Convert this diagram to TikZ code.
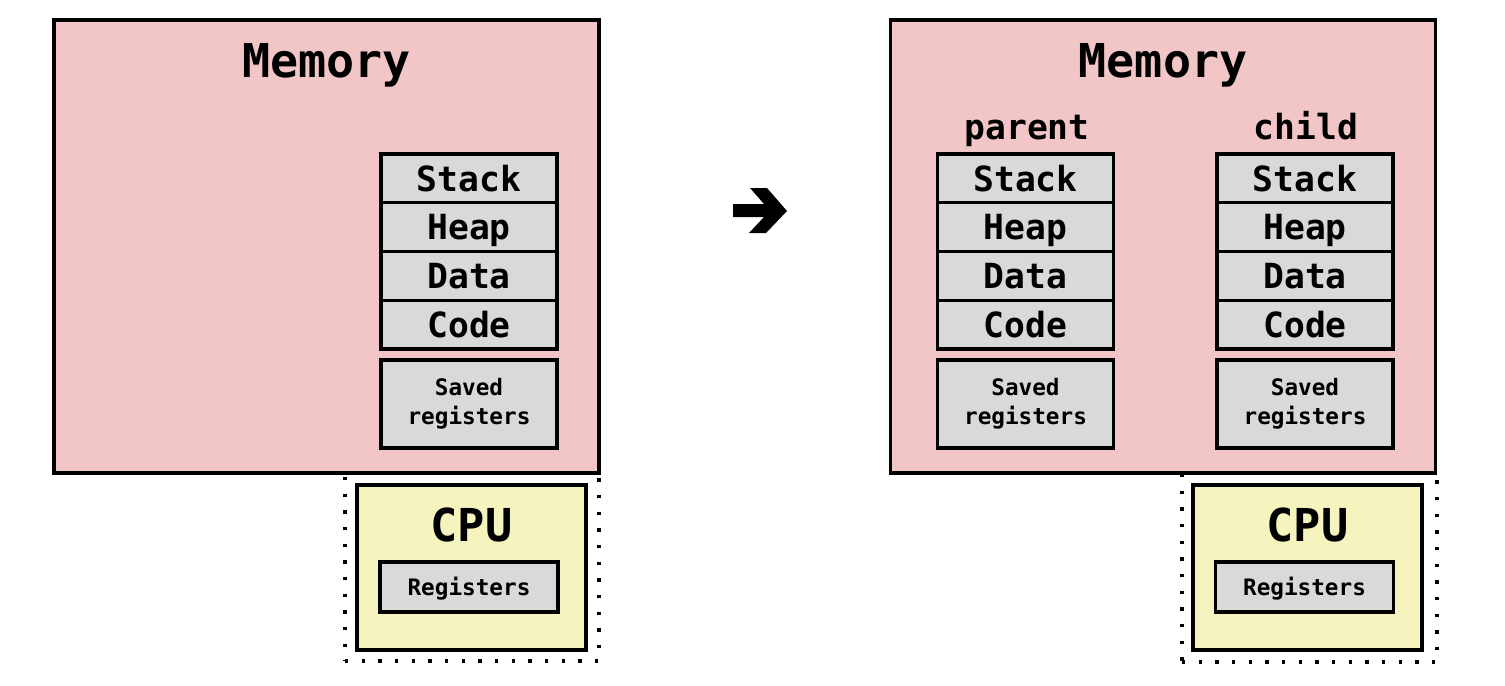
\documentclass[tikz,border=0pt]{standalone}
\usepackage{fontspec}
\setmonofont{DejaVu Sans Mono}
\definecolor{memfill}{RGB}{242,198,198}
\definecolor{segfill}{RGB}{217,217,217}
\definecolor{cpufill}{RGB}{246,244,190}

\begin{document}
\begin{tikzpicture}[x=0.75pt,y=-0.75pt,line join=miter,
		box/.style 2 args={draw,line width=2.3pt,inner sep=0pt,
			minimum width=#1*0.75pt,minimum height=#2*0.75pt},
		mono/.style={font=\ttfamily\bfseries\fontsize{#1}{#1}\selectfont,
			text height={0.73*#1pt},text depth=0pt,inner sep=0pt},
		mem/.style={box={545}{453},fill=memfill},
		seg/.style={box={176}{48.75},fill=segfill,mono=26},
		saved/.style={box={176}{88},fill=segfill,align=center,
			font=\ttfamily\bfseries\fontsize{17}{21.75}\selectfont},
		cpu/.style={box={229}{165},fill=cpufill},
		regs/.style={box={178}{50},fill=segfill,mono=17},
		zone/.style 2 args={draw,line width=2.5pt,line cap=butt,
			dash pattern=on 2.5pt off 10pt,inner sep=0pt,
			minimum width=#1*0.75pt,minimum height=#2*0.75pt}]
	\useasboundingbox (0,0) rectangle (1505,685);

	% dotted zones round the CPUs (top edge hidden under memory)
	\node[zone={254}{188}] (zoneL) at (472,567) {};
	\node[zone={255}{189}] (zoneR) at (1309.5,567.5) {};

	% the two memories
	\node[mem] (memL) at (326.5,246.5) {};
	\node[mem] (memR) at (1163,246.5) {};
	\node[mono=35] (titleL) at (326.5,60.5) {Memory};
	\node[mono=35] (titleR) at (1163,60.5) {Memory};
	\node[mono=26] (parent) at (1027,127) {parent};
	\node[mono=26] (child) at (1306,127) {child};

	% address spaces: L = before fork, P = parent, C = child
	\foreach \col/\cx in {L/469, P/1025.5, C/1305} {
		\foreach \seg [count=\i] in {Stack,Heap,Data,Code} {
			\node[seg] (\seg\col) at (\cx,{154+48.75*\i-24.375}) {\seg};
		}
		\node[saved] (saved\col) at (\cx,404) {Saved\\registers};
	}

	% the CPUs
	\foreach \col/\cx/\rx in {L/471.5/469, R/1307.5/1304.5} {
		\node[cpu] (cpu\col) at (\cx,567.5) {};
		\node[mono=34] (cpuname\col) at (\cx,525) {CPU};
		\node[regs] (regs\col) at (\rx,587) {Registers};
	}

	% fork arrow
	\fill (733,204) -- (764,204) -- (750,188) -- (767,188) -- (787,211)
		-- (766,233) -- (749,233) -- (764,217) -- (733,217) -- cycle;
\end{tikzpicture}
\end{document}
